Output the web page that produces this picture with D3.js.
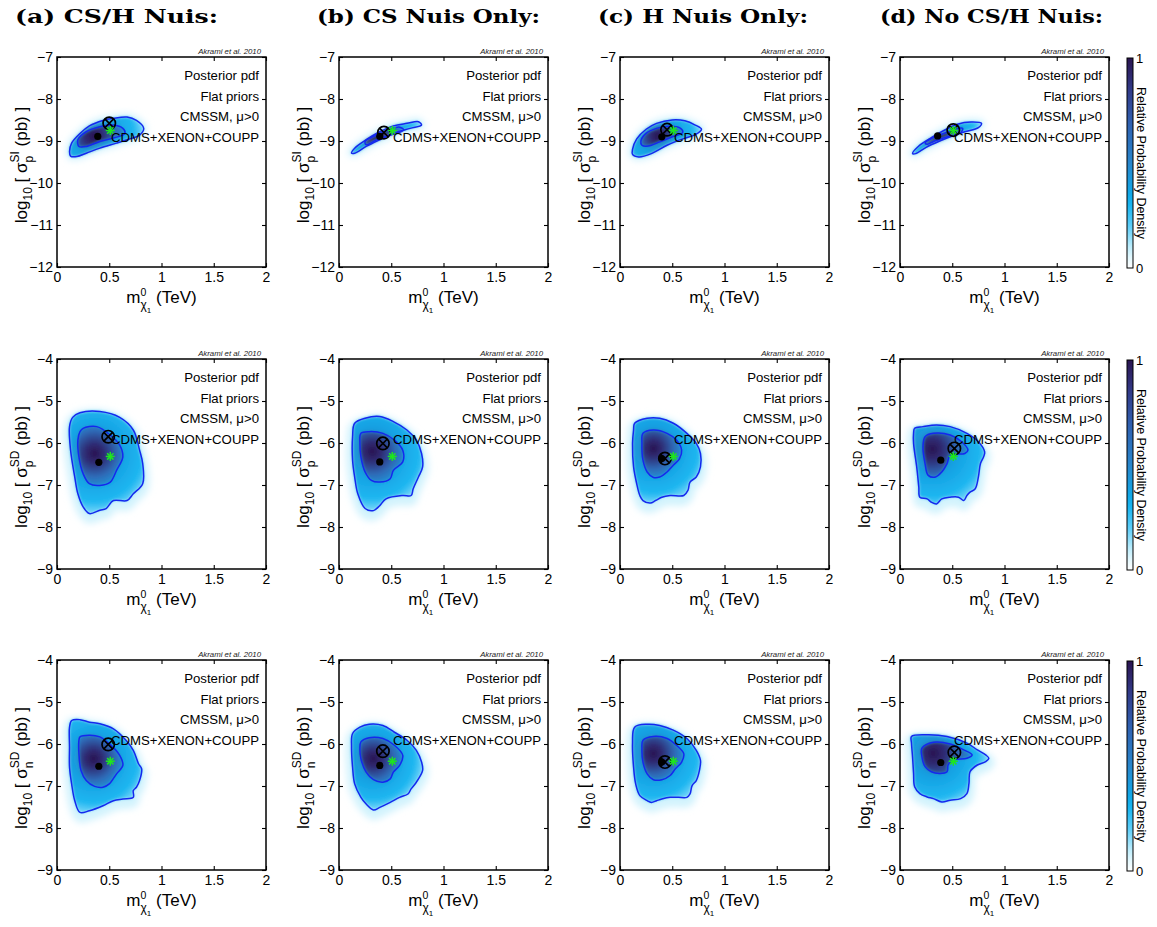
<!DOCTYPE html>
<html><head><meta charset="utf-8">
<script src="https://cdn.jsdelivr.net/npm/d3@7"></script>
<style>body{margin:0;background:#fff}svg{display:block}</style>
</head><body>
<svg id="fig" width="1157" height="927"></svg>
<script>
// ---- chart data -------------------------------------------------------
const columnTitles = ["(a) CS/H Nuis:", "(b) CS Nuis Only:", "(c) H Nuis Only:", "(d) No CS/H Nuis:"];
const rowSup = ["SI", "SD", "SD"];
const rowSub = ["p", "p", "n"];
const rowYDomains = [[-12, -7], [-9, -4], [-9, -4]];
const rowYTicks = [[-12, -11, -10, -9, -8, -7], [-9, -8, -7, -6, -5, -4], [-9, -8, -7, -6, -5, -4]];
const xDomain = [0, 2];
const xTicks = [0, 0.5, 1, 1.5, 2];
const annotationLines = ["Posterior pdf", "Flat priors", "CMSSM, \u03bc>0", "CDMS+XENON+COUPP"];
const creditText = "Akrami et al. 2010";
const colorbarTitle = "Relative Probability Density";
const colorbarTicks = [0, 1];

// colormap stops (relative probability density -> colour)
const cmapStops = [
  [0.00, "#ffffff"], [0.08, "#d2f3fd"], [0.20, "#5ccdf8"], [0.32, "#0cb0ee"],
  [0.50, "#2886cc"], [0.70, "#305eae"], [0.85, "#323a88"], [1.00, "#2a1450"]
];

// contours enclosing 95% (outer) and 68% (inner) of posterior mass,
// panels in row-major order: [m_chi (TeV), log10 sigma (pb)]
const outerContours = [
  [[0.12,-9.25],[0.14,-9.05],[0.22,-8.82],[0.31,-8.64],[0.44,-8.51],[0.54,-8.46],[0.67,-8.43],[0.76,-8.51],[0.83,-8.70],[0.79,-8.86],[0.67,-8.97],[0.57,-9.05],[0.41,-9.17],[0.28,-9.29],[0.19,-9.37],[0.13,-9.36]],
  [[0.12,-9.29],[0.15,-9.17],[0.26,-8.97],[0.39,-8.78],[0.52,-8.64],[0.65,-8.58],[0.76,-8.54],[0.79,-8.62],[0.68,-8.70],[0.52,-8.82],[0.39,-8.97],[0.26,-9.13],[0.15,-9.29]],
  [[0.12,-9.20],[0.16,-8.95],[0.25,-8.72],[0.35,-8.58],[0.50,-8.50],[0.62,-8.52],[0.72,-8.62],[0.78,-8.72],[0.72,-8.85],[0.60,-8.95],[0.45,-9.10],[0.30,-9.30],[0.18,-9.38],[0.12,-9.32]],
  [[0.12,-9.30],[0.18,-9.12],[0.30,-8.92],[0.42,-8.75],[0.55,-8.60],[0.68,-8.55],[0.78,-8.58],[0.75,-8.68],[0.62,-8.78],[0.50,-8.88],[0.38,-9.00],[0.25,-9.15],[0.15,-9.30]],
  [[0.22,-5.28],[0.41,-5.25],[0.60,-5.39],[0.73,-5.69],[0.79,-6.17],[0.82,-6.49],[0.82,-6.97],[0.73,-7.21],[0.67,-7.37],[0.54,-7.37],[0.47,-7.56],[0.41,-7.60],[0.31,-7.68],[0.25,-7.52],[0.20,-7.21],[0.17,-6.81],[0.13,-6.17],[0.12,-5.61],[0.15,-5.39]],
  [[0.15,-5.53],[0.25,-5.41],[0.39,-5.37],[0.52,-5.49],[0.65,-5.69],[0.74,-5.93],[0.79,-6.25],[0.80,-6.57],[0.76,-6.81],[0.71,-7.09],[0.69,-7.25],[0.61,-7.25],[0.45,-7.33],[0.39,-7.49],[0.33,-7.61],[0.25,-7.56],[0.18,-7.21],[0.15,-6.81],[0.13,-6.41],[0.13,-5.85]],
  [[0.14,-5.53],[0.26,-5.41],[0.38,-5.41],[0.51,-5.53],[0.64,-5.77],[0.73,-6.01],[0.77,-6.25],[0.77,-6.57],[0.73,-6.81],[0.67,-6.93],[0.65,-7.13],[0.61,-7.25],[0.48,-7.25],[0.40,-7.29],[0.34,-7.37],[0.29,-7.43],[0.22,-7.37],[0.19,-7.25],[0.16,-6.97],[0.13,-6.57],[0.12,-6.01],[0.13,-5.69]],
  [[0.14,-5.65],[0.22,-5.61],[0.35,-5.57],[0.48,-5.61],[0.64,-5.77],[0.75,-5.97],[0.81,-6.21],[0.80,-6.33],[0.77,-6.49],[0.75,-6.81],[0.72,-7.09],[0.67,-7.17],[0.64,-7.25],[0.61,-7.37],[0.56,-7.29],[0.48,-7.29],[0.40,-7.33],[0.35,-7.45],[0.30,-7.41],[0.26,-7.33],[0.19,-7.29],[0.18,-7.05],[0.16,-6.57],[0.13,-6.01],[0.13,-5.77]],
  [[0.14,-5.44],[0.22,-5.42],[0.31,-5.48],[0.41,-5.52],[0.54,-5.64],[0.66,-5.91],[0.73,-6.15],[0.78,-6.47],[0.81,-6.59],[0.79,-6.87],[0.76,-7.03],[0.73,-7.11],[0.73,-7.27],[0.63,-7.31],[0.54,-7.35],[0.44,-7.47],[0.31,-7.59],[0.22,-7.63],[0.17,-7.35],[0.14,-6.95],[0.12,-6.55],[0.12,-6.07],[0.12,-5.60]],
  [[0.13,-5.75],[0.20,-5.60],[0.29,-5.53],[0.42,-5.56],[0.53,-5.72],[0.65,-5.91],[0.74,-6.15],[0.79,-6.43],[0.80,-6.63],[0.74,-6.91],[0.69,-7.07],[0.66,-7.19],[0.58,-7.27],[0.49,-7.39],[0.39,-7.51],[0.33,-7.57],[0.26,-7.43],[0.21,-7.27],[0.15,-6.95],[0.13,-6.55],[0.12,-6.07]],
  [[0.14,-5.60],[0.26,-5.53],[0.38,-5.56],[0.51,-5.67],[0.64,-5.87],[0.73,-6.15],[0.77,-6.39],[0.76,-6.63],[0.73,-6.87],[0.69,-6.99],[0.67,-7.19],[0.64,-7.27],[0.56,-7.27],[0.48,-7.27],[0.40,-7.31],[0.35,-7.35],[0.30,-7.39],[0.26,-7.35],[0.19,-7.23],[0.15,-6.95],[0.13,-6.55],[0.12,-5.99]],
  [[0.11,-5.82],[0.26,-5.78],[0.45,-5.82],[0.64,-5.98],[0.74,-6.14],[0.82,-6.26],[0.85,-6.34],[0.82,-6.42],[0.74,-6.50],[0.67,-6.66],[0.66,-6.94],[0.64,-7.18],[0.58,-7.30],[0.48,-7.34],[0.40,-7.38],[0.32,-7.30],[0.26,-7.26],[0.19,-7.18],[0.14,-7.02],[0.13,-6.70],[0.12,-6.30],[0.11,-5.98]]
];
const innerContours = [
  [[0.20,-8.97],[0.28,-8.78],[0.41,-8.66],[0.54,-8.62],[0.63,-8.70],[0.65,-8.82],[0.54,-8.93],[0.41,-9.01],[0.28,-9.13],[0.21,-9.13]],
  [[0.25,-9.01],[0.36,-8.86],[0.49,-8.72],[0.58,-8.67],[0.62,-8.74],[0.49,-8.86],[0.36,-8.97],[0.26,-9.09]],
  [[0.20,-9.00],[0.25,-8.82],[0.35,-8.70],[0.47,-8.65],[0.58,-8.70],[0.60,-8.80],[0.50,-8.90],[0.38,-9.02],[0.27,-9.12],[0.21,-9.10]],
  [[0.24,-9.05],[0.32,-8.92],[0.42,-8.82],[0.52,-8.72],[0.60,-8.70],[0.58,-8.80],[0.45,-8.90],[0.33,-9.00],[0.26,-9.08]],
  [[0.25,-5.65],[0.38,-5.61],[0.51,-5.81],[0.60,-6.05],[0.63,-6.33],[0.57,-6.65],[0.51,-6.93],[0.41,-7.01],[0.31,-6.97],[0.25,-6.73],[0.21,-6.33],[0.20,-5.93],[0.22,-5.73]],
  [[0.21,-5.77],[0.29,-5.73],[0.42,-5.77],[0.53,-5.93],[0.61,-6.17],[0.61,-6.45],[0.52,-6.65],[0.49,-6.85],[0.39,-6.93],[0.31,-6.89],[0.25,-6.69],[0.21,-6.33],[0.20,-6.01]],
  [[0.22,-5.77],[0.32,-5.69],[0.45,-5.77],[0.54,-5.93],[0.59,-6.17],[0.57,-6.37],[0.51,-6.53],[0.45,-6.69],[0.38,-6.81],[0.32,-6.82],[0.26,-6.69],[0.22,-6.41],[0.21,-6.01]],
  [[0.24,-5.85],[0.32,-5.77],[0.48,-5.81],[0.59,-5.97],[0.65,-6.17],[0.62,-6.25],[0.48,-6.29],[0.45,-6.49],[0.40,-6.69],[0.34,-6.81],[0.27,-6.77],[0.24,-6.49],[0.22,-6.09]],
  [[0.22,-5.83],[0.31,-5.79],[0.41,-5.83],[0.50,-5.99],[0.60,-6.27],[0.63,-6.51],[0.57,-6.71],[0.50,-6.95],[0.44,-7.03],[0.36,-7.01],[0.28,-6.87],[0.23,-6.63],[0.21,-6.23],[0.21,-5.91]],
  [[0.21,-5.95],[0.29,-5.85],[0.42,-5.87],[0.53,-6.03],[0.61,-6.27],[0.58,-6.51],[0.52,-6.67],[0.49,-6.83],[0.42,-6.91],[0.33,-6.85],[0.26,-6.67],[0.21,-6.35],[0.20,-6.11]],
  [[0.22,-5.91],[0.32,-5.82],[0.45,-5.87],[0.54,-6.03],[0.61,-6.23],[0.59,-6.43],[0.53,-6.59],[0.48,-6.75],[0.40,-6.85],[0.32,-6.85],[0.26,-6.71],[0.22,-6.43],[0.21,-6.11]],
  [[0.21,-6.10],[0.32,-5.96],[0.48,-6.00],[0.61,-6.14],[0.69,-6.26],[0.64,-6.34],[0.51,-6.38],[0.46,-6.50],[0.45,-6.66],[0.38,-6.70],[0.30,-6.66],[0.24,-6.54],[0.21,-6.30]]
];
// posterior mode (darkest point), posterior mean (dot), best fit (circled cross)
const modePoints = [[0.35,-8.88],[0.37,-8.90],[0.36,-8.88],[0.38,-8.90],[0.36,-6.25],[0.32,-6.20],[0.32,-6.13],[0.31,-6.15],[0.35,-6.35],[0.33,-6.35],[0.32,-6.23],[0.32,-6.22]];
const meanPoints = [[0.39,-8.89],[0.39,-8.89],[0.40,-8.90],[0.36,-8.88],[0.40,-6.46],[0.39,-6.45],[0.40,-6.37],[0.39,-6.41],[0.40,-6.53],[0.39,-6.51],[0.40,-6.43],[0.39,-6.44]];
const bestFitPoints = [[0.50,-8.58],[0.43,-8.80],[0.45,-8.73],[0.51,-8.74],[0.49,-5.85],[0.42,-6.01],[0.43,-6.37],[0.52,-6.13],[0.49,-6.01],[0.42,-6.17],[0.43,-6.43],[0.52,-6.20]];
// benchmark point, one per row
const benchmarkPoints = [[0.51,-8.75],[0.51,-6.32],[0.51,-6.41]];

// ---- layout -------------------------------------------------------------
const colLeft = [57, 339, 620, 900];
const rowTop = [57, 359, 660];
const plotW = 209, plotH = 210;
const titleX = [15, 317, 598, 880];
const titleW = [203, 223, 210, 223];
const SANS = "'Liberation Sans', Arial, Helvetica, sans-serif";
const contourBlue = "#1428ee";

const svg = d3.select("#fig");
const defs = svg.append("defs");

const cmap = d3.scaleLinear()
  .domain(cmapStops.map(d => d[0]))
  .range(cmapStops.map(d => d[1]))
  .interpolate(d3.interpolateRgb);

defs.append("filter").attr("id", "soft").attr("x", "-30%").attr("y", "-30%").attr("width", "160%").attr("height", "160%")
  .append("feGaussianBlur").attr("stdDeviation", 1.5);
defs.append("filter").attr("id", "softer").attr("x", "-30%").attr("y", "-30%").attr("width", "160%").attr("height", "160%")
  .append("feGaussianBlur").attr("stdDeviation", 3.5);

const smooth = d3.line().curve(d3.curveCatmullRomClosed.alpha(0.5));

// lays out a run of text pieces (sub/superscripts) and returns its width
function richText(g, items, family) {
  let prevStart = 0, prevEnd = 0, maxEnd = 0;
  items.forEach(it => {
    let x = it.at === "same" ? prevStart : it.at === "after" ? maxEnd : prevEnd;
    const t = g.append("text").attr("x", x).attr("y", it.dy || 0)
      .attr("font-family", family).attr("font-size", it.s)
      .style("white-space", "pre").attr("fill", "#000").text(it.t);
    const w = t.node().getComputedTextLength();
    prevStart = x; prevEnd = x + w; maxEnd = Math.max(maxEnd, x + w);
  });
  return maxEnd;
}

// titles
columnTitles.forEach((t, c) => {
  svg.append("text").attr("x", titleX[c]).attr("y", 23)
    .attr("font-family", "'DejaVu Serif', 'Liberation Serif', serif")
    .attr("font-weight", "bold").attr("font-size", 19)
    .attr("textLength", titleW[c]).attr("lengthAdjust", "spacingAndGlyphs")
    .text(t);
});

const fmt = v => (v < 0 ? "\u2212" + Math.abs(v) : String(v));

for (let r = 0; r < 3; r++) {
  for (let c = 0; c < 4; c++) {
    const i = r * 4 + c;
    const L = colLeft[c], T = rowTop[r];
    const x = d3.scaleLinear(xDomain, [L, L + plotW]);
    const y = d3.scaleLinear(rowYDomains[r], [T + plotH, T]);
    const g = svg.append("g");

    defs.append("clipPath").attr("id", "clip" + i)
      .append("rect").attr("x", L).attr("y", T).attr("width", plotW).attr("height", plotH);

    const outerPx = outerContours[i].map(p => [x(p[0]), y(p[1])]);
    const innerPx = innerContours[i].map(p => [x(p[0]), y(p[1])]);
    const mode = [x(modePoints[i][0]), y(modePoints[i][1])];
    const rOuter = d3.max(outerPx, p => Math.hypot(p[0] - mode[0], p[1] - mode[1]));
    const rInner = d3.max(innerPx, p => Math.hypot(p[0] - mode[0], p[1] - mode[1]));

    const og = defs.append("radialGradient").attr("id", "og" + i).attr("gradientUnits", "userSpaceOnUse")
      .attr("cx", mode[0]).attr("cy", mode[1]).attr("r", rOuter);
    [[0, 0.52], [0.45, 0.38], [0.8, 0.29], [1, 0.17]].forEach(s =>
      og.append("stop").attr("offset", s[0]).attr("stop-color", cmap(s[1])));
    const ig = defs.append("radialGradient").attr("id", "ig" + i).attr("gradientUnits", "userSpaceOnUse")
      .attr("cx", mode[0]).attr("cy", mode[1]).attr("r", rInner);
    [[0, 1.0], [0.3, 0.9], [0.7, 0.64], [1, 0.47]].forEach(s =>
      ig.append("stop").attr("offset", s[0]).attr("stop-color", cmap(s[1])));

    const dens = g.append("g").attr("clip-path", `url(#clip${i})`);
    // faint halo of low density around the outer contour
    dens.append("path").attr("d", smooth(outerPx))
      .attr("transform", r > 0 ? "translate(0,4)" : null)
      .attr("fill", cmap(0.08)).attr("stroke", cmap(0.08)).attr("stroke-width", r > 0 ? 12 : 7)
      .attr("stroke-linejoin", "round").attr("filter", "url(#softer)");
    const core = dens.append("g").attr("filter", "url(#soft)");
    core.append("path").attr("d", smooth(outerPx)).attr("fill", `url(#og${i})`);
    core.append("path").attr("d", smooth(innerPx)).attr("fill", `url(#ig${i})`);
    // contour lines
    dens.append("path").attr("d", smooth(outerPx)).attr("fill", "none")
      .attr("stroke", contourBlue).attr("stroke-width", 1.5);
    dens.append("path").attr("d", smooth(innerPx)).attr("fill", "none")
      .attr("stroke", contourBlue).attr("stroke-width", 1.5);

    // posterior mean
    g.append("circle").attr("cx", x(meanPoints[i][0])).attr("cy", y(meanPoints[i][1]))
      .attr("r", 3.6).attr("fill", "#000");
    // best fit point
    const bx = x(bestFitPoints[i][0]), by = y(bestFitPoints[i][1]);
    const bf = g.append("g").attr("transform", `translate(${bx},${by})`)
      .attr("stroke", "#000").attr("stroke-width", 1.7).attr("fill", "none");
    bf.append("circle").attr("r", 6.2);
    bf.append("path").attr("d", "M-4.4,-4.4L4.4,4.4M-4.4,4.4L4.4,-4.4");
    // benchmark point
    const sx = x(benchmarkPoints[r][0]), sy = y(benchmarkPoints[r][1]);
    const star = g.append("g").attr("transform", `translate(${sx},${sy})`)
      .attr("stroke", "#1ee61e").attr("stroke-width", 1.5);
    [0, 45, 90, 135].forEach(a => star.append("line")
      .attr("x1", -4.5).attr("x2", 4.5).attr("transform", `rotate(${a})`));

    // axes: ticks point inward on all four sides
    const ax = g.append("g").attr("font-family", SANS);
    ax.append("g").attr("transform", `translate(${L},0)`)
      .call(d3.axisLeft(y).tickValues(rowYTicks[r]).tickSize(-4).tickPadding(4).tickFormat(fmt));
    ax.append("g").attr("transform", `translate(${L + plotW},0)`)
      .call(d3.axisRight(y).tickValues(rowYTicks[r]).tickSize(-4).tickFormat(""));
    ax.append("g").attr("transform", `translate(0,${T + plotH})`)
      .call(d3.axisBottom(x).tickValues(xTicks).tickSize(-4).tickPadding(5).tickFormat(d => String(d)));
    ax.append("g").attr("transform", `translate(0,${T})`)
      .call(d3.axisTop(x).tickValues(xTicks).tickSize(-4).tickFormat(""));
    ax.selectAll(".domain").remove();
    ax.selectAll(".tick line").attr("stroke", "#000").attr("stroke-width", 1.1);
    ax.selectAll(".tick text").attr("font-size", 14).attr("font-family", SANS).attr("fill", "#000");
    g.append("rect").attr("x", L).attr("y", T).attr("width", plotW).attr("height", plotH)
      .attr("fill", "none").attr("stroke", "#000").attr("stroke-width", 1.5);

    // annotation text
    annotationLines.forEach((t, k) => {
      g.append("text").attr("x", L + plotW - 7).attr("y", T + 23 + k * 20.7)
        .attr("text-anchor", "end").attr("font-family", SANS).attr("font-size", 13.2).text(t);
    });
    g.append("text").attr("x", L + plotW - 5).attr("y", T - 3)
      .attr("text-anchor", "end").attr("font-family", SANS).attr("font-style", "italic")
      .attr("font-size", 7.8).attr("fill", "#222").text(creditText);

    // x label: m_{chi_1^0} (TeV)
    const xl = g.append("g");
    const xw = richText(xl, [
      { t: "m", s: 17 },
      { t: "0", s: 10.5, dy: -7, at: "next" },
      { t: "\u03c7", s: 12, dy: 6, at: "same" },
      { t: "1", s: 8, dy: 10, at: "next" },
      { t: " (TeV)", s: 17, at: "after" }
    ], SANS);
    xl.attr("transform", `translate(${L + plotW / 2 - xw / 2},${T + plotH + 36})`);

    // y label: log10 [ sigma (pb) ]
    const yl = g.append("g");
    const yw = richText(yl, [
      { t: "log", s: 17 },
      { t: "10", s: 12, dy: 5, at: "next" },
      { t: " [ \u03c3", s: 17, at: "next" },
      { t: rowSup[r], s: 12, dy: -8, at: "next" },
      { t: rowSub[r], s: 12, dy: 6, at: "same" },
      { t: " (pb) ]", s: 17, at: "after" }
    ], SANS);
    yl.attr("transform", `translate(${L - 30},${T + plotH / 2 + 3}) rotate(-90) translate(${-yw / 2},0)`);
  }
}

// colour bars, one per row
const cbGrad = defs.append("linearGradient").attr("id", "cbgrad")
  .attr("x1", 0).attr("y1", 1).attr("x2", 0).attr("y2", 0);
d3.range(0, 1.0001, 0.05).forEach(v =>
  cbGrad.append("stop").attr("offset", v).attr("stop-color", cmap(v)));

rowTop.forEach((T, r) => {
  const cy = d3.scaleLinear([0, 1], [T + plotH + 1, T + 1]);
  const cb = svg.append("g");
  cb.append("rect").attr("x", 1127).attr("y", cy(1)).attr("width", 6).attr("height", cy(0) - cy(1))
    .attr("fill", "url(#cbgrad)").attr("stroke", "#000").attr("stroke-width", 1);
  colorbarTicks.forEach(v => {
    cb.append("text").attr("x", 1136).attr("y", cy(v) + 5)
      .attr("font-family", SANS).attr("font-size", 13).text(String(v));
  });
  cb.append("text").attr("transform", `translate(1137,${(cy(0) + cy(1)) / 2}) rotate(90)`)
    .attr("text-anchor", "middle").attr("font-family", SANS).attr("font-size", 12.5)
    .text(colorbarTitle);
});
</script>
</body></html>
